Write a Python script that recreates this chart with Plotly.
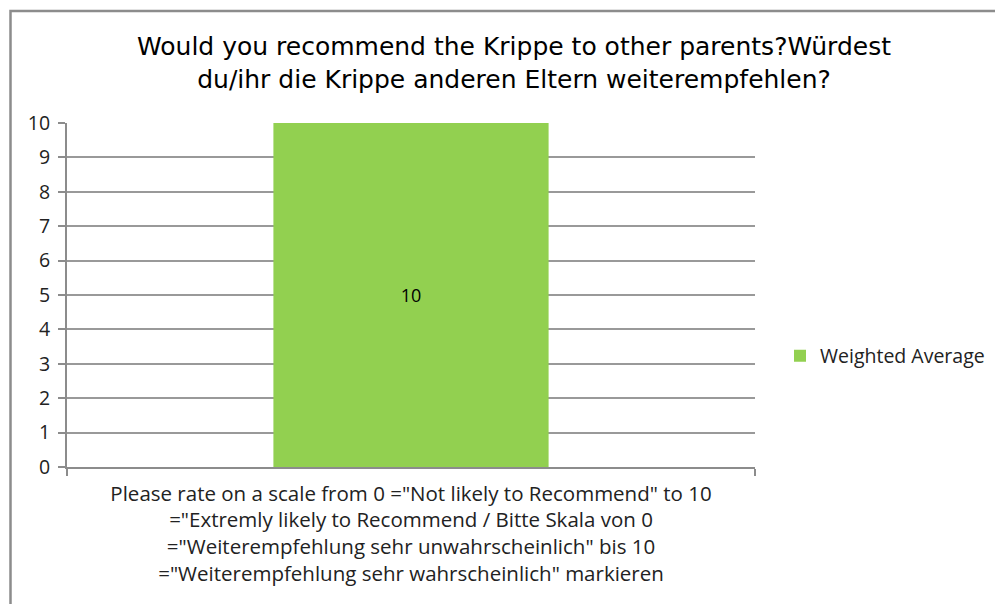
import plotly.graph_objects as go

categories = ['Please rate on a scale from 0 ="Not likely to Recommend" to 10<br>="Extremly likely to Recommend / Bitte Skala von 0<br>="Weiterempfehlung sehr unwahrscheinlich" bis 10<br>="Weiterempfehlung sehr wahrscheinlich" markieren']
values = [10]
series_name = "Weighted Average"
title_text = "Would you recommend the Krippe to other parents?Würdest<br>du/ihr die Krippe anderen Eltern weiterempfehlen?"

W, H = 1003, 604
OFF = 8  # page body margin
L, R, T, B = 67 - OFF, 1003 - 755 + OFF, 123 - OFF, 604 - 467 + OFF
pw, ph = W - L - R, H - T - B

def px2x(px):  # page pixel -> paper x
    return (px - OFF - L) / pw

def py2y(py):  # page pixel -> paper y
    return (H - B - (py - OFF)) / ph

FONT = "Open Sans, Lato, sans-serif"

fig = go.Figure()
fig.add_trace(go.Bar(
    x=categories, y=values, name=series_name,
    marker=dict(color="#92D050", line=dict(width=0)),
    text=[str(v) for v in values], textposition="inside",
    insidetextanchor="middle",
    textfont=dict(family=FONT, size=18, color="#000000"),
    showlegend=True,
))

fig.update_layout(
    width=W, height=H,
    margin=dict(l=L, r=R, t=T, b=B),
    paper_bgcolor="white", plot_bgcolor="white",
    bargap=0.6,
    title=dict(text=title_text, x=px2x(514), xref="paper", xanchor="center",
               y=1 - (55 - OFF) / H, yref="container", yanchor="middle",
               font=dict(family="DejaVu Sans, Liberation Sans, sans-serif", size=25, color="#000000")),
    xaxis=dict(
        showline=True, linecolor="#8c8c8c", linewidth=2,
        ticks="outside", tickson="boundaries", ticklen=7, tickcolor="#8c8c8c", tickwidth=2,
        tickfont=dict(family=FONT, size=20.5, color="#222222"),
        ticklabelstandoff=7,
        showgrid=False,
    ),
    yaxis=dict(
        range=[0, 10], dtick=1, tick0=0,
        showline=True, linecolor="#8c8c8c", linewidth=2,
        ticks="outside", ticklen=7, tickcolor="#8c8c8c", tickwidth=2,
        showgrid=True, gridcolor="#999999", gridwidth=2,
        zeroline=False,
        ticklabelstandoff=4,
        tickfont=dict(family=FONT, size=19.5, color="#222222"),
    ),
    legend=dict(x=px2x(780), y=py2y(356), xanchor="left", yanchor="middle",
                font=dict(family=FONT, size=19.5, color="#222222"),
                bgcolor="rgba(0,0,0,0)"),
    shapes=[dict(type="rect", xref="paper", yref="paper",
                 x0=px2x(10.5), x1=px2x(1030), y0=py2y(630), y1=py2y(11),
                 line=dict(color="#8c8c8c", width=2.5), fillcolor="rgba(0,0,0,0)", layer="below")],
)

fig.write_html("out.html")
